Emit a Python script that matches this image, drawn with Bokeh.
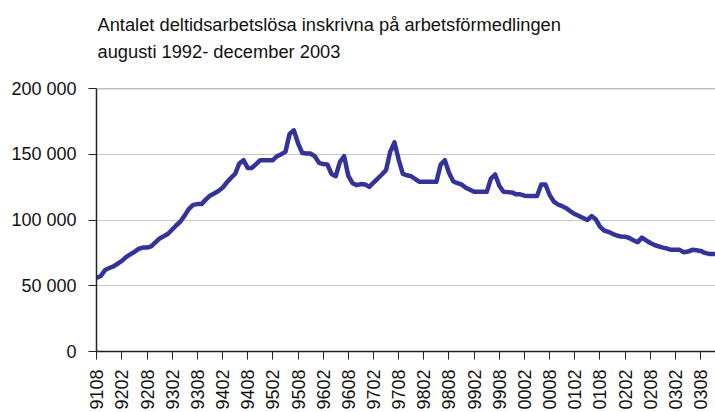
import math
from bokeh.plotting import figure
from bokeh.models import Range1d, FixedTicker, CustomJSTickFormatter, Title, Span
from bokeh.embed import file_html
from bokeh.resources import INLINE

# Monthly values, 9108 .. 0312
values = [
    55800, 57500, 62000, 63500, 64700, 66800, 68900, 71800, 73800, 75800,
    78000, 79000, 79000, 80000, 83000, 86000, 87700, 89500, 92800, 96000,
    99000, 103500, 108500, 111500, 112100, 112100, 115500, 118500, 120200, 122000,
    124500, 128500, 132000, 135000, 143000, 145500, 139600, 139600, 142500, 145500,
    145500, 145500, 145500, 148500, 150000, 151800, 165500, 168200, 158500, 151000,
    150500, 150500, 148500, 143500, 142500, 142200, 135000, 133300, 144200, 148500,
    133500, 128000, 126500, 127300, 127000, 125200, 128500, 131500, 134600, 138000,
    152000, 159000, 146000, 135000, 134000, 133300, 131000, 129000, 129000, 129000,
    129000, 129000, 142000, 145500, 136000, 129500, 128000, 127000, 124500, 123000,
    121500, 121400, 121400, 121400, 131500, 134600, 126000, 121500, 121200, 121000,
    119500, 119500, 118500, 118200, 118200, 118200, 127000, 127000, 119000, 114000,
    111800, 110500, 109000, 106500, 104500, 103000, 101500, 100000, 103000, 100500,
    95000, 92000, 91000, 89500, 88200, 87500, 87300, 86300, 84500, 83100,
    86600, 84500, 82500, 81000, 80000, 79000, 78300, 77300, 77300, 77300,
    75500, 76000, 77300, 77000, 76500, 75000, 74200, 74200, 74200,
]

tick_labels = ["9108", "9202", "9208", "9302", "9308", "9402", "9408", "9502",
               "9508", "9602", "9608", "9702", "9708", "9802", "9808", "9902",
               "9908", "0002", "0008", "0102", "0108", "0202", "0208", "0302", "0308"]
tick_step = 6

y_ticks = [0, 50000, 100000, 150000, 200000]

title_line1 = "Antalet deltidsarbetslösa inskrivna på arbetsförmedlingen"
title_line2 = "augusti 1992- december 2003"

xs = list(range(len(values)))

Y_MAX = 200000
p = figure(width=715, height=412, output_backend="svg", toolbar_location=None,
           x_range=Range1d(-0.05, 147.55), y_range=Range1d(0, Y_MAX),
           min_border_left=96, min_border_right=0, min_border_top=88, min_border_bottom=60)
p.background_fill_color = "white"
p.border_fill_color = "white"
p.outline_line_color = None

FONT = "Liberation Sans"

# trailing blank line keeps the two title lines high above the frame
title = Title(text=title_line1 + "\n" + title_line2 + "\n ", align="left", text_font=FONT,
              text_font_size="18.3px", text_font_style="normal", text_color="#111111",
              text_line_height=1.27, offset=1, standoff=0, vertical_align="bottom")
p.add_layout(title, "above")

# grid
p.xgrid.visible = False
p.ygrid.ticker = FixedTicker(ticks=y_ticks)
p.ygrid.grid_line_color = "#c8c8c8"
p.ygrid.grid_line_width = 1
p.add_layout(Span(location=Y_MAX, dimension="width", line_color="#808080", line_width=1.5))

# y axis
p.yaxis.ticker = FixedTicker(ticks=y_ticks)
p.yaxis.formatter = CustomJSTickFormatter(code="""
    var s = Math.round(tick).toString();
    return s.replace(/\\B(?=(\\d{3})+(?!\\d))/g, ' ');
""")
p.yaxis.major_label_text_font = FONT
p.yaxis.major_label_text_font_size = "18px"
p.yaxis.major_label_text_color = "#111111"
p.yaxis.major_tick_out = 8
p.yaxis.major_tick_in = 0
p.yaxis.minor_tick_out = 0
p.yaxis.minor_tick_in = 0
p.yaxis.major_label_standoff = 12
p.yaxis.axis_line_color = "#222222"
p.yaxis.axis_line_width = 1.5
p.yaxis.major_tick_line_color = "#222222"

# x axis
x_ticks = [i * tick_step for i in range(len(tick_labels))]
p.xaxis.ticker = FixedTicker(ticks=x_ticks)
p.xaxis.major_label_overrides = {t: lab for t, lab in zip(x_ticks, tick_labels)}
p.xaxis.major_label_orientation = math.pi / 2
p.xaxis.major_label_text_font = FONT
p.xaxis.major_label_text_font_size = "18px"
p.xaxis.major_label_text_color = "#111111"
p.xaxis.major_tick_out = 8
p.xaxis.major_tick_in = 0
p.xaxis.minor_tick_out = 0
p.xaxis.minor_tick_in = 0
p.xaxis.major_label_standoff = 10
p.xaxis.axis_line_color = "#222222"
p.xaxis.axis_line_width = 1.5
p.xaxis.major_tick_line_color = "#222222"

p.line(xs, values, line_color="#333399", line_width=4.5, line_join="round")

open("out.html", "w").write(file_html(p, INLINE))
